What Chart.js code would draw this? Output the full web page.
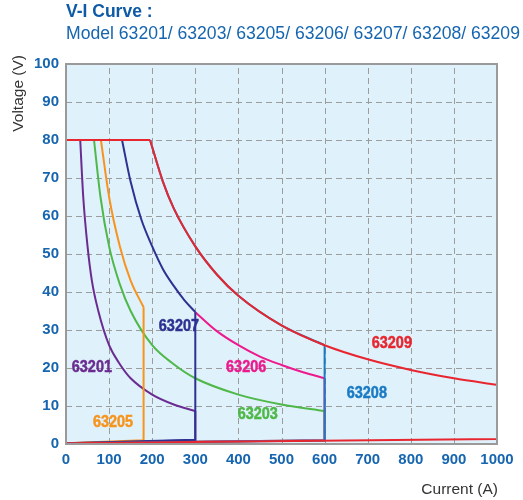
<!DOCTYPE html>
<html>
<head>
<meta charset="utf-8">
<script src="https://cdn.jsdelivr.net/npm/chart.js@4.4.1/dist/chart.umd.min.js"></script>
<style>
  html, body { margin: 0; padding: 0; background: #fff; }
  #wrap { position: relative; width: 523px; height: 500px; }
  .t1 { position: absolute; left: 66px; top: 1px; font: bold 17.5px "Liberation Sans", Arial, sans-serif; color: #0d5aa7; }
  .t2 { position: absolute; left: 66px; top: 23px; font: 17.6px "Liberation Sans", Arial, sans-serif; color: #1565b0; white-space: nowrap; }
</style>
</head>
<body>
<div id="wrap">
  <canvas id="grafica" width="523" height="500"></canvas>
  <div class="t1">V-I Curve :</div>
  <div class="t2">Model 63201/ 63203/ 63205/ 63206/ 63207/ 63208/ 63209</div>
</div>
<script>
// Valores (corriente en A, tensión en V)
const xTicks = [0, 100, 200, 300, 400, 500, 600, 700, 800, 900, 1000];
const yTicks = [0, 10, 20, 30, 40, 50, 60, 70, 80, 90, 100];

const models = ['63209', '63208', '63207', '63206', '63205', '63203', '63201'];

// curva de potencia constante de cada modelo
const i63201 = [33, 40, 50, 60, 75, 100, 125, 150, 200, 250, 300];
const v63201 = [80, 65, 52, 43, 35, 26, 21, 17.3, 13, 10.4, 8.7];

const i63203 = [65, 80, 100, 125, 150, 200, 250, 300, 400, 500, 600];
const v63203 = [80, 65, 52, 42, 35, 26, 21, 17.3, 13, 10.4, 8.7];

const i63205 = [81, 100, 125, 150, 180];
const v63205 = [80, 65, 52, 43, 36];

const i63207 = [130, 150, 175, 200, 225, 250, 275, 300];
const v63207 = [80, 69, 59, 52, 46, 41.6, 37.8, 34.7];

const i63206 = [300, 350, 400, 450, 500, 550, 600];
const v63206 = [34.7, 29.7, 26, 23, 20.8, 18.9, 17.3];

const i63208 = [195, 225, 250, 300, 350, 400, 500, 600];
const v63208 = [80, 69, 62, 52, 44.6, 39, 31.2, 26];

const i63209 = [195, 225, 250, 300, 350, 400, 500, 600, 700, 800, 900, 1000];
const v63209 = [80, 69, 62, 52, 44.6, 39, 31.2, 26, 22.3, 19.5, 17.3, 15.6];

// corriente máxima y tensión mínima a corriente máxima
const iMax = { '63201': 300, '63203': 600, '63205': 180, '63206': 600, '63207': 300, '63208': 600, '63209': 1000 };
const vMin = { '63201': 1.0, '63203': 1.0, '63205': 1.0, '63206': 1.0, '63207': 1.1, '63208': 0.9, '63209': 1.3 };

const colores = {
    '63201': '#6b2c91',
    '63203': '#4fb848',
    '63205': '#f7941d',
    '63206': '#ec1a8c',
    '63207': '#2e3192',
    '63208': '#1a7bc4',
    '63209': '#e8262f'
};

const curvas = {
    '63201': [i63201, v63201], '63203': [i63203, v63203], '63205': [i63205, v63205],
    '63206': [i63206, v63206], '63207': [i63207, v63207], '63208': [i63208, v63208],
    '63209': [i63209, v63209]
};

const datasets = [];
models.forEach((m, k) => {
    const [ii, vv] = curvas[m];
    const pts = ii.map((x, j) => ({ x: x, y: vv[j] }));
    datasets.push({
        label: m,
        data: pts,
        borderColor: colores[m],
        borderWidth: 2,
        pointRadius: 0,
        cubicInterpolationMode: 'monotone',
        order: k
    });
    const last = pts[pts.length - 1];
    const marco = [];
    if (m !== '63206') {
        marco.push({ x: 0, y: 80 }, { x: ii[0], y: 80 }, { x: ii[0], y: null });
    }
    marco.push({ x: iMax[m], y: last.y }, { x: iMax[m], y: vMin[m] }, { x: 0, y: 0.2 });
    datasets.push({
        label: m + ' marco',
        data: marco,
        borderColor: colores[m],
        borderWidth: 2,
        pointRadius: 0,
        tension: 0,
        spanGaps: false,
        order: k
    });
});

// etiquetas dentro del área (posición en unidades de datos)
const etiquetas = [
    ['63201', 60, 20.3],
    ['63205', 109, 5.8],
    ['63207', 262, 31],
    ['63206', 418, 20.3],
    ['63203', 445, 7.9],
    ['63208', 698, 13.4],
    ['63209', 756, 26.6]
];

const fondo = {
    id: 'fondo',
    beforeDraw(chart) {
        const { ctx, chartArea: a, scales } = chart;
        ctx.save();
        ctx.fillStyle = '#dff1fb';
        ctx.fillRect(a.left, a.top, a.right - a.left, a.bottom - a.top);
        // rejilla punteada
        ctx.strokeStyle = '#9c9c9c';
        ctx.lineWidth = 1;
        ctx.setLineDash([6, 4]);
        xTicks.forEach(v => {
            const px = Math.round(scales.x.getPixelForValue(v)) + 0.5;
            ctx.beginPath();
            ctx.moveTo(px, a.bottom);
            ctx.lineTo(px, a.top);
            ctx.stroke();
        });
        yTicks.forEach(v => {
            const py = Math.round(scales.y.getPixelForValue(v)) + 0.5;
            ctx.beginPath();
            ctx.moveTo(a.left, py);
            ctx.lineTo(a.right, py);
            ctx.stroke();
        });
        ctx.restore();
    },
    afterDraw(chart) {
        const { ctx, chartArea: a, scales } = chart;
        ctx.save();
        ctx.strokeStyle = '#9a9a9a';
        ctx.lineWidth = 2;
        ctx.strokeRect(a.left, a.top, a.right - a.left, a.bottom - a.top);
        ctx.font = 'bold 17px "Liberation Sans", Arial, sans-serif';
        ctx.textAlign = 'center';
        ctx.textBaseline = 'middle';
        ctx.lineWidth = 0.5;
        etiquetas.forEach(([t, x, y]) => {
            ctx.save();
            ctx.fillStyle = colores[t];
            ctx.strokeStyle = colores[t];
            ctx.translate(scales.x.getPixelForValue(x), scales.y.getPixelForValue(y));
            ctx.scale(0.85, 1);
            ctx.fillText(t, 0, 0);
            ctx.strokeText(t, 0, 0);
            ctx.restore();
        });
        // títulos de ejes
        ctx.fillStyle = '#333';
        ctx.font = '15.5px "Liberation Sans", Arial, sans-serif';
        ctx.textAlign = 'right';
        ctx.textBaseline = 'alphabetic';
        ctx.fillText('Current (A)', 498, 494);
        ctx.translate(23, 55);
        ctx.rotate(-Math.PI / 2);
        ctx.fillText('Voltage (V)', 0, 0);
        ctx.restore();
    }
};

const ctx = document.getElementById('grafica').getContext('2d');
const tickFont = { family: '"Liberation Sans", Arial, sans-serif', size: 15, weight: 'bold' };

new Chart(ctx, {
    type: 'line',
    data: { datasets: datasets },
    options: {
        responsive: false,
        animation: false,
        layout: { padding: { top: 64, right: 26, left: 0, bottom: 0 } },
        plugins: { legend: { display: false }, tooltip: { enabled: false } },
        scales: {
            x: {
                type: 'linear',
                min: 0, max: 1000,
                afterFit(s) { s.height = 56; },
                afterBuildTicks(s) { s.ticks = xTicks.map(v => ({ value: v })); },
                grid: { display: false, tickLength: 0 },
                border: { display: false },
                ticks: { color: '#1565b0', font: tickFont, padding: 7, maxRotation: 0, callback: v => String(v) }
            },
            y: {
                min: 0, max: 100,
                afterFit(s) { s.width = 66; },
                afterBuildTicks(s) { s.ticks = yTicks.map(v => ({ value: v })); },
                grid: { display: false, tickLength: 0 },
                border: { display: false },
                ticks: { color: '#1565b0', font: tickFont, padding: 7, callback: v => String(v) }
            }
        }
    },
    plugins: [fondo]
});
</script>
</body>
</html>
